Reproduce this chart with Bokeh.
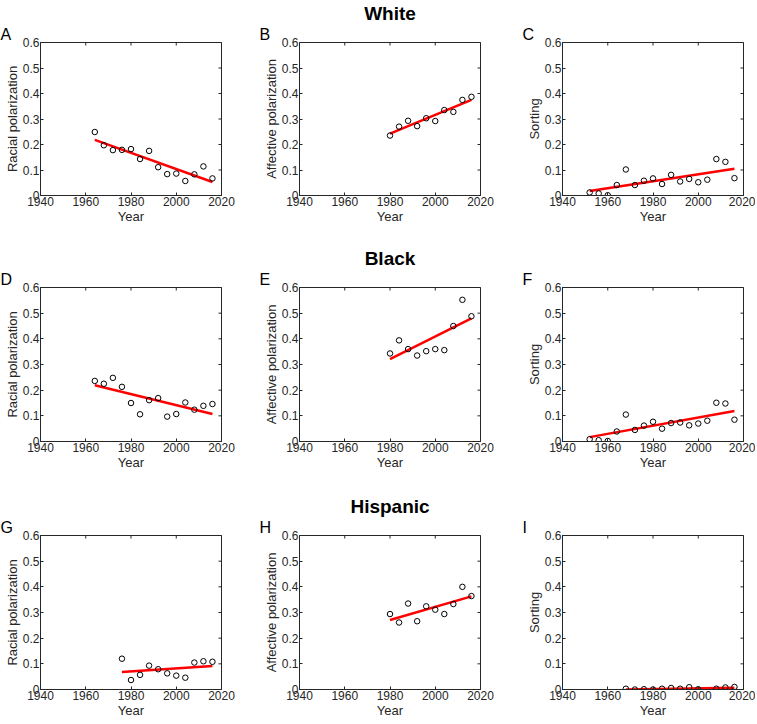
from bokeh.plotting import figure
from bokeh.layouts import column, row
from bokeh.models import FixedTicker, Title, Range1d
from bokeh.embed import file_html
from bokeh.resources import INLINE

# ---------------- data ----------------
x_ticks = [1940, 1960, 1980, 2000, 2020]
x_tick_labels = ["1940", "1960", "1980", "2000", "2020"]
y_ticks = [0, 0.1, 0.2, 0.3, 0.4, 0.5, 0.6]
y_tick_labels = ["0", "0.1", "0.2", "0.3", "0.4", "0.5", "0.6"]
x_limits = [1940, 2020]
y_limits = [0, 0.6]

group_titles = ["White", "Black", "Hispanic"]
panel_letters = [["A", "B", "C"], ["D", "E", "F"], ["G", "H", "I"]]
y_labels = ["Racial polarization", "Affective polarization", "Sorting"]
x_label = "Year"

years_racial = [1964, 1968, 1972, 1976, 1980, 1984, 1988, 1992, 1996, 2000, 2004, 2008, 2012, 2016]
years_racial_hisp = [1976, 1980, 1984, 1988, 1992, 1996, 2000, 2004, 2008, 2012, 2016]
years_affective = [1980, 1984, 1988, 1992, 1996, 2000, 2004, 2008, 2012, 2016]
years_sorting = [1952, 1956, 1960, 1964, 1968, 1972, 1976, 1980, 1984, 1988, 1992, 1996, 2000, 2004, 2008, 2012, 2016]
years_sorting_hisp = [1968, 1972, 1976, 1980, 1984, 1988, 1992, 1996, 2000, 2008, 2012, 2016]

white_racial = [0.249, 0.197, 0.178, 0.179, 0.182, 0.143, 0.175, 0.111, 0.084, 0.086, 0.057, 0.083, 0.114, 0.067]
white_affective = [0.235, 0.270, 0.293, 0.272, 0.303, 0.292, 0.335, 0.328, 0.375, 0.387]
white_sorting = [0.012, 0.008, 0.001, 0.041, 0.102, 0.041, 0.058, 0.067, 0.045, 0.081, 0.055, 0.065, 0.052, 0.062, 0.143, 0.132, 0.068]

black_racial = [0.236, 0.225, 0.248, 0.213, 0.150, 0.106, 0.161, 0.169, 0.097, 0.107, 0.152, 0.124, 0.139, 0.146]
black_affective = [0.343, 0.394, 0.360, 0.335, 0.352, 0.360, 0.356, 0.450, 0.552, 0.488]
black_sorting = [0.009, 0.005, 0.002, 0.039, 0.105, 0.045, 0.062, 0.077, 0.050, 0.072, 0.074, 0.063, 0.070, 0.081, 0.151, 0.148, 0.085]

hisp_racial = [0.120, 0.037, 0.057, 0.093, 0.079, 0.063, 0.054, 0.046, 0.105, 0.110, 0.108]
hisp_affective = [0.294, 0.261, 0.335, 0.266, 0.324, 0.311, 0.294, 0.333, 0.400, 0.364]
hisp_sorting = [0.003, 0.000, 0.001, 0.000, 0.003, 0.006, 0.003, 0.009, 0.001, 0.003, 0.008, 0.010]

# linear-fit end points (start, end)
white_racial_fit = [0.218, 0.053]
white_affective_fit = [0.243, 0.375]
white_sorting_fit = [0.018, 0.105]
black_racial_fit = [0.219, 0.107]
black_affective_fit = [0.321, 0.480]
black_sorting_fit = [0.017, 0.119]
hisp_racial_fit = [0.068, 0.092]
hisp_affective_fit = [0.271, 0.363]
hisp_sorting_fit = [0.000, 0.007]

panels = [
    [(years_racial, white_racial, white_racial_fit),
     (years_affective, white_affective, white_affective_fit),
     (years_sorting, white_sorting, white_sorting_fit)],
    [(years_racial, black_racial, black_racial_fit),
     (years_affective, black_affective, black_affective_fit),
     (years_sorting, black_sorting, black_sorting_fit)],
    [(years_racial_hisp, hisp_racial, hisp_racial_fit),
     (years_affective, hisp_affective, hisp_affective_fit),
     (years_sorting_hisp, hisp_sorting, hisp_sorting_fit)],
]

# ---------------- layout / style ----------------
FONT = "Liberation Sans"
AX = "#262626"
LEFT = 40
widths = [259, 263, 233]
rights = [38, 42, 12]
heights = [228, 247, 247]
tops = [41, 59, 60]
bottoms = [33, 34, 33]

x_over = dict(zip(x_ticks, x_tick_labels))
y_over = dict(zip(y_ticks, y_tick_labels))


def style_axis(ax, ticks, overrides, label):
    ax.ticker = FixedTicker(ticks=ticks)
    ax.major_label_overrides = overrides
    ax.minor_tick_line_color = None
    ax.major_tick_in = 3
    ax.major_tick_out = 0
    ax.major_tick_line_color = AX
    ax.axis_line_color = AX
    ax.major_label_text_color = AX
    ax.major_label_text_font = FONT
    ax.major_label_text_font_size = "12px"
    ax.major_label_standoff = 1
    ax.axis_label = label
    ax.axis_label_text_font = FONT
    ax.axis_label_text_font_size = "13px"
    ax.axis_label_text_font_style = "normal"
    ax.axis_label_text_color = AX
    ax.axis_label_standoff = 0


def make_panel(r, c):
    xs, ys, fit = panels[r][c]
    p = figure(width=widths[c], height=heights[r],
               x_range=Range1d(*x_limits), y_range=Range1d(*y_limits),
               output_backend="svg", toolbar_location=None, title=None,
               min_border_left=LEFT, min_border_right=rights[c],
               min_border_top=tops[r], min_border_bottom=bottoms[r])
    p.grid.visible = False
    p.outline_line_color = AX
    p.outline_line_width = 1
    style_axis(p.xaxis[0], x_ticks, x_over, x_label)
    style_axis(p.yaxis[0], y_ticks, y_over, y_labels[c])

    # inward tick marks on the top and right edges of the box (clipped to frame)
    p.scatter(x_ticks, [y_limits[1]] * len(x_ticks), marker="dash", angle=1.5708,
              size=6, line_color=AX, line_width=1)
    p.scatter([x_limits[1]] * len(y_ticks), y_ticks, marker="dash",
              size=6, line_color=AX, line_width=1)

    p.add_layout(Title(text=panel_letters[r][c], align="left", offset=-LEFT,
                       text_font=FONT, text_font_size="16px",
                       text_font_style="normal", text_color="black",
                       standoff=0), "above")
    if c == 1:
        p.add_layout(Title(text=group_titles[r], align="center",
                           text_font=FONT, text_font_size="19px",
                           text_font_style="bold", text_color="black",
                           standoff=0), "above")

    p.line([xs[0], xs[-1]], fit, line_color="#FF0000", line_width=2.5)
    p.scatter(xs, ys, marker="circle", size=5.5, fill_color=None,
              line_color="black", line_width=1)
    return p


layout = column(*[row(*[make_panel(r, c) for c in range(3)]) for r in range(3)])

open("out.html", "w").write(file_html(layout, INLINE))
